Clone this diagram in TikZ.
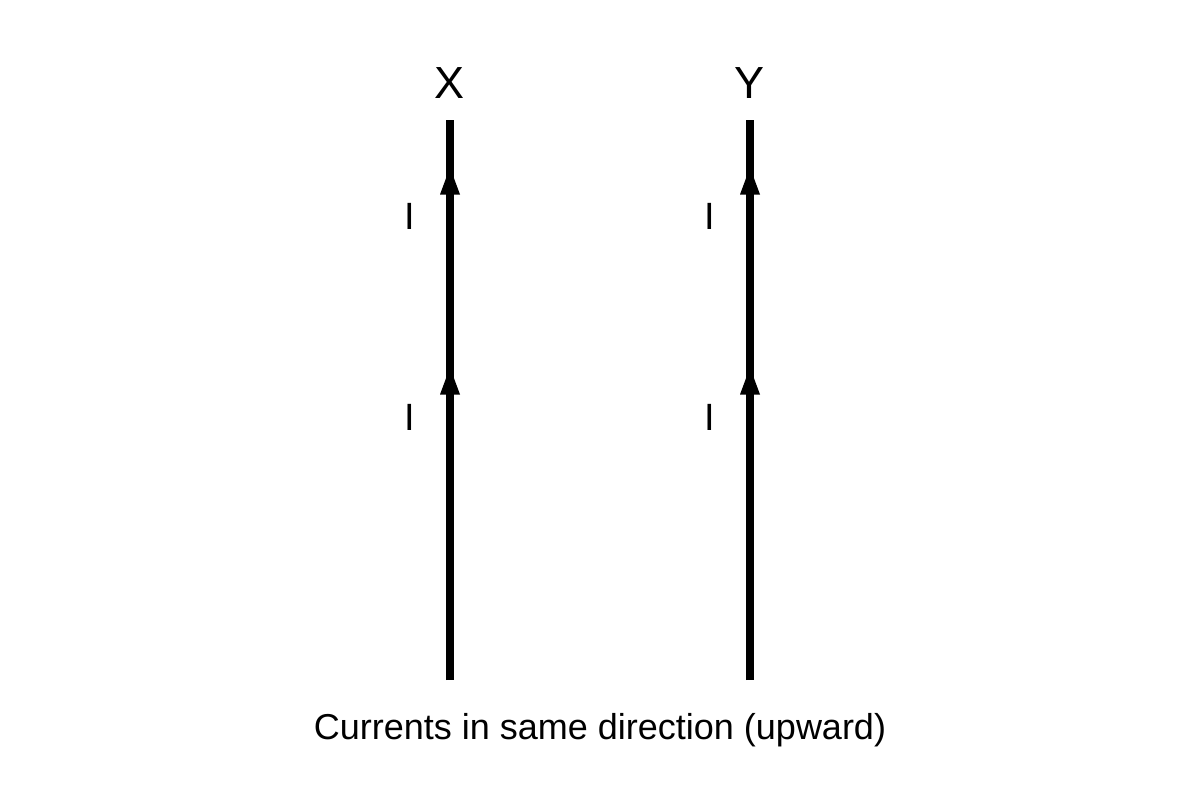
\documentclass[tikz,border=0pt]{standalone}
\usepackage{fontspec}
\setmainfont{Liberation Sans}
\tikzset{
  wire/.style={line width=8pt, black},
  tip/.style={fill=black},
  wirename/.style={font=\fontsize{45}{54}\selectfont, anchor=base, inner sep=0pt},
  curlabel/.style={font=\fontsize{38}{46}\selectfont, anchor=base, inner sep=0pt},
  caption/.style={font=\fontsize{36}{43}\selectfont, anchor=base, inner sep=0pt}
}
\begin{document}
\begin{tikzpicture}[x=1pt,y=-1pt]
\useasboundingbox (0,0) rectangle (1200,800);
% wire X
\coordinate (xt) at (450,120);
\coordinate (xu) at (450,167.5);
\coordinate (xm) at (450,367.5);
\coordinate (xb) at (450,680);
% wire Y
\coordinate (yt) at (750,120);
\coordinate (yu) at (750,167.5);
\coordinate (ym) at (750,367.5);
\coordinate (yb) at (750,680);
\draw[wire] (xb) -- (xt);
\draw[wire] (yb) -- (yt);
\foreach \p in {xu,xm,yu,ym}{
  \fill[tip] (\p) -- ++(10,27) -- ++(-20,0) -- cycle;
}
\node[wirename] (lx) at (450,99) {X};
\node[wirename] (ly) at (750,99) {Y};
\node[curlabel] (ix1) at (410,229.5) {I};
\node[curlabel] (ix2) at (410,430) {I};
\node[curlabel] (iy1) at (710,229.5) {I};
\node[curlabel] (iy2) at (710,430) {I};
\node[caption] (cap) at (600,739) {Currents in same direction (upward)};
\end{tikzpicture}
\end{document}
